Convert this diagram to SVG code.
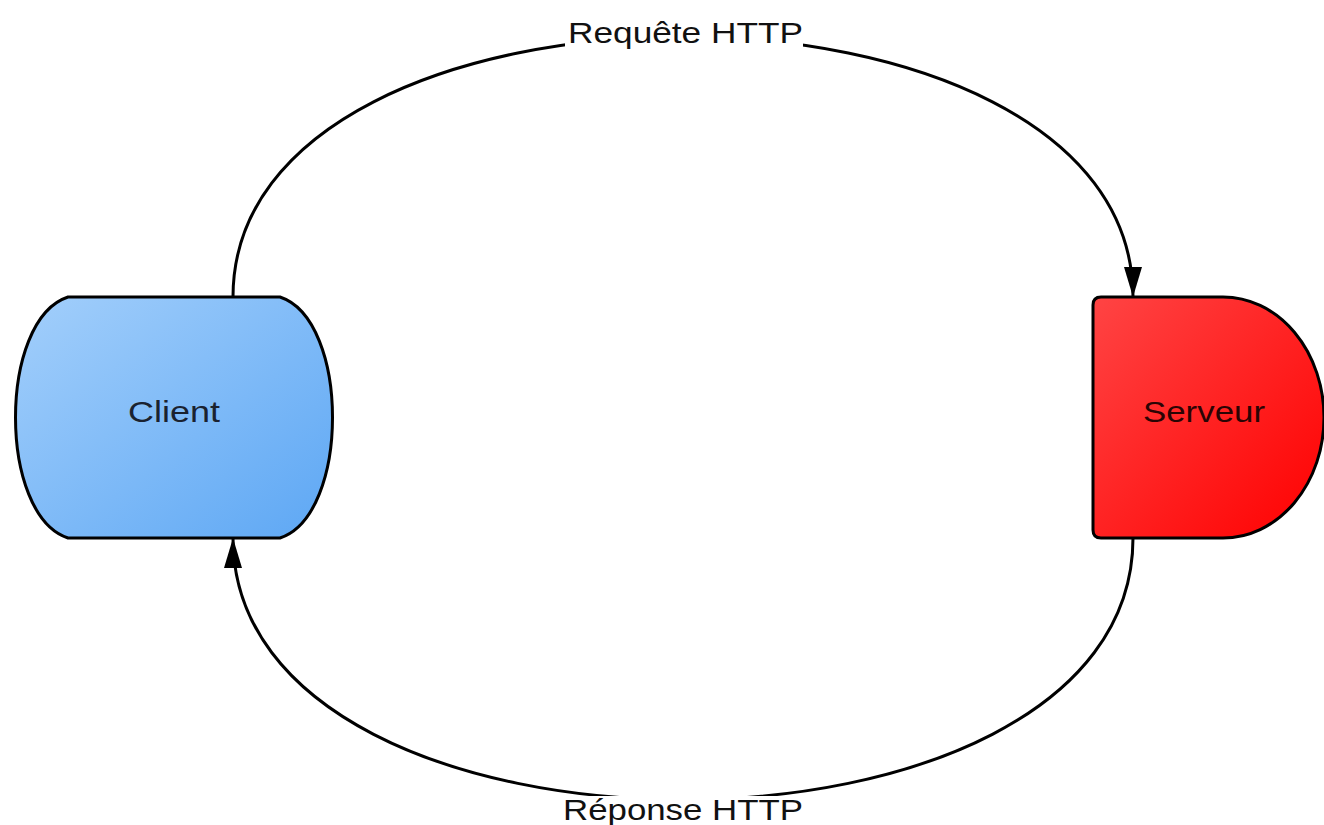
<svg xmlns="http://www.w3.org/2000/svg" width="1324" height="825" viewBox="0 0 1324 825">
<style>
.node{stroke:#000;stroke-width:3}
.conn{fill:none;stroke:#000;stroke-width:3}
.lbl{font-family:"Liberation Sans",Arial,sans-serif;font-size:29px;fill:#111}
.bg{fill:#fff}
</style>
<defs>
<linearGradient id="gBlue" x1="0" y1="0" x2="1" y2="1">
<stop offset="0" stop-color="#a3cffb"/>
<stop offset="1" stop-color="#5da7f4"/>
</linearGradient>
<linearGradient id="gRed" x1="0" y1="0" x2="1" y2="1">
<stop offset="0" stop-color="#ff4444"/>
<stop offset="1" stop-color="#ff0000"/>
</linearGradient>
<marker id="arrow" viewBox="0 0 30 20" refX="30" refY="10" markerWidth="30" markerHeight="20" markerUnits="userSpaceOnUse" orient="auto">
<path d="M0,1 L30,10 L0,19 Z" fill="#000"/>
</marker>
</defs>
<g id="connectors">
<path class="conn" d="M233,297 C233,-50 1133,-50 1133,297" marker-end="url(#arrow)"/>
<path class="conn" d="M1133,538 C1133,887 233,887 233,538" marker-end="url(#arrow)"/>
<rect class="bg" x="565" y="20" width="238" height="36"/>
<text class="lbl" x="568" y="43" textLength="235" lengthAdjust="spacingAndGlyphs">Requête HTTP</text>
<rect class="bg" x="560" y="796" width="246" height="29"/>
<text class="lbl" x="563" y="820" textLength="240" lengthAdjust="spacingAndGlyphs">Réponse HTTP</text>
</g>
<g id="client">
<path class="node" fill="url(#gBlue)" d="M68,297 H280 C350,320 350,515 280,538 H68 C-2,515 -2,320 68,297 Z"/>
<text class="lbl" x="128" y="422" textLength="92" lengthAdjust="spacingAndGlyphs" style="fill:#1a2230">Client</text>
</g>
<g id="serveur">
<path class="node" fill="url(#gRed)" d="M1101,297 H1223 A101,120.5 0 0 1 1223,538 H1101 Q1093,538 1093,530 V305 Q1093,297 1101,297 Z"/>
<text class="lbl" x="1143" y="422" textLength="122" lengthAdjust="spacingAndGlyphs" style="fill:#2a0404">Serveur</text>
</g>
</svg>
